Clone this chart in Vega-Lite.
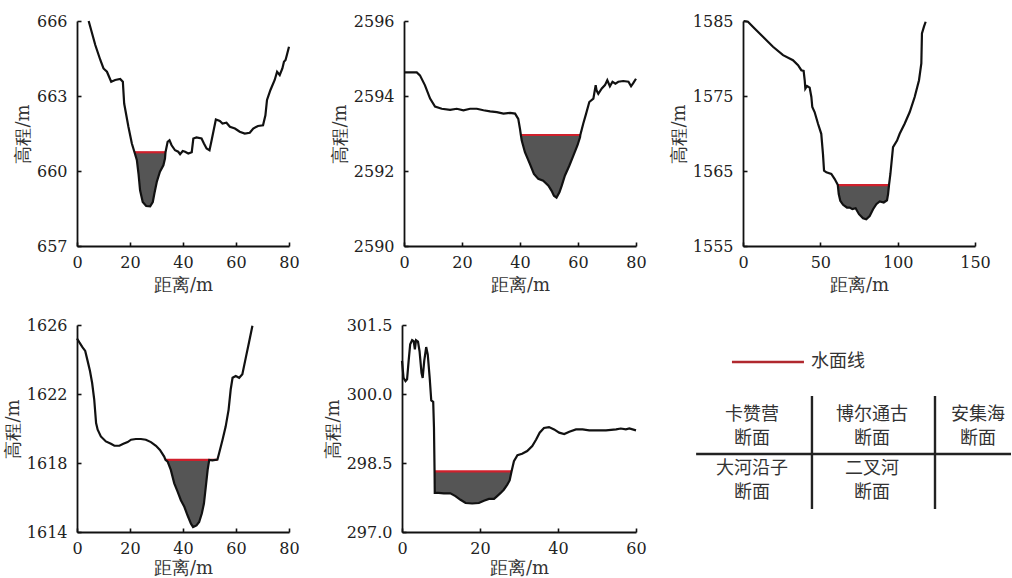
{
  "$schema": "https://vega.github.io/schema/vega-lite/v6.json",
  "padding": {"left": 4, "top": 13, "right": 0, "bottom": 0},
  "background": "white",
  "spacing": 23,
  "datasets": {
    "prof": [
      {"p":1,"d":4.4,"h":666.0},{"p":1,"d":6.9,"h":665.04},{"p":1,"d":8.8,"h":664.44},{"p":1,"d":10.0,"h":664.1},{"p":1,"d":11.3,"h":663.97},{"p":1,"d":12.9,"h":663.57},{"p":1,"d":14.4,"h":663.64},{"p":1,"d":16.3,"h":663.68},{"p":1,"d":17.3,"h":663.57},{"p":1,"d":17.8,"h":662.7},{"p":1,"d":19.4,"h":661.77},{"p":1,"d":20.7,"h":661.1},
      {"p":1,"d":21.7,"h":660.75,"w":660.75},{"p":1,"d":22.6,"h":660.43,"w":660.75},{"p":1,"d":23.2,"h":659.9,"w":660.75},{"p":1,"d":23.8,"h":659.23,"w":660.75},{"p":1,"d":24.8,"h":658.76,"w":660.75},{"p":1,"d":26.1,"h":658.6,"w":660.75},{"p":1,"d":27.6,"h":658.59,"w":660.75},{"p":1,"d":28.6,"h":658.76,"w":660.75},{"p":1,"d":29.2,"h":659.1,"w":660.75},{"p":1,"d":30.1,"h":659.56,"w":660.75},{"p":1,"d":31.3,"h":659.97,"w":660.75},{"p":1,"d":32.6,"h":660.23,"w":660.75},{"p":1,"d":33.2,"h":660.5,"w":660.75},{"p":1,"d":33.4,"h":660.75,"w":660.75},
      {"p":1,"d":34.2,"h":661.17},{"p":1,"d":34.9,"h":661.23},{"p":1,"d":35.7,"h":661.03},{"p":1,"d":37.0,"h":660.83},{"p":1,"d":38.2,"h":660.77},{"p":1,"d":38.9,"h":660.67},{"p":1,"d":39.9,"h":660.8},{"p":1,"d":40.8,"h":660.77},{"p":1,"d":42.0,"h":660.7},{"p":1,"d":43.3,"h":660.75},{"p":1,"d":43.9,"h":661.3},{"p":1,"d":45.1,"h":661.34},{"p":1,"d":47.0,"h":661.3},{"p":1,"d":47.9,"h":661.1},{"p":1,"d":48.9,"h":660.9},{"p":1,"d":50.0,"h":660.83},{"p":1,"d":50.8,"h":661.23},{"p":1,"d":52.4,"h":662.06},{"p":1,"d":53.9,"h":662.0},{"p":1,"d":54.9,"h":661.9},{"p":1,"d":56.4,"h":661.93},{"p":1,"d":57.7,"h":661.77},{"p":1,"d":59.6,"h":661.7},{"p":1,"d":61.4,"h":661.57},{"p":1,"d":63.3,"h":661.5},{"p":1,"d":65.2,"h":661.53},{"p":1,"d":66.5,"h":661.7},{"p":1,"d":68.3,"h":661.8},{"p":1,"d":70.2,"h":661.83},{"p":1,"d":71.1,"h":662.23},{"p":1,"d":71.7,"h":662.84},{"p":1,"d":73.0,"h":663.24},{"p":1,"d":74.6,"h":663.64},{"p":1,"d":75.5,"h":663.97},{"p":1,"d":76.5,"h":663.84},{"p":1,"d":77.5,"h":664.1},{"p":1,"d":78.1,"h":664.37},{"p":1,"d":78.7,"h":664.44},{"p":1,"d":79.2,"h":664.64},{"p":1,"d":80.0,"h":664.97},

      {"p":2,"d":0.3,"h":2594.63},{"p":2,"d":4.4,"h":2594.63},{"p":2,"d":5.5,"h":2594.55},{"p":2,"d":7.2,"h":2594.29},{"p":2,"d":9.0,"h":2593.93},{"p":2,"d":10.7,"h":2593.72},{"p":2,"d":13.0,"h":2593.66},{"p":2,"d":15.9,"h":2593.63},{"p":2,"d":18.2,"h":2593.66},{"p":2,"d":20.5,"h":2593.62},{"p":2,"d":22.8,"h":2593.66},{"p":2,"d":25.1,"h":2593.66},{"p":2,"d":27.4,"h":2593.62},{"p":2,"d":29.7,"h":2593.59},{"p":2,"d":32.0,"h":2593.57},{"p":2,"d":34.3,"h":2593.53},{"p":2,"d":36.6,"h":2593.55},{"p":2,"d":38.3,"h":2593.53},{"p":2,"d":39.4,"h":2593.39},{"p":2,"d":40.0,"h":2593.12},
      {"p":2,"d":40.3,"h":2592.96,"w":2592.96},{"p":2,"d":40.6,"h":2592.81,"w":2592.96},{"p":2,"d":41.7,"h":2592.5,"w":2592.96},{"p":2,"d":43.4,"h":2592.19,"w":2592.96},{"p":2,"d":44.8,"h":2591.92,"w":2592.96},{"p":2,"d":46.3,"h":2591.79,"w":2592.96},{"p":2,"d":48.0,"h":2591.74,"w":2592.96},{"p":2,"d":49.8,"h":2591.61,"w":2592.96},{"p":2,"d":50.9,"h":2591.47,"w":2592.96},{"p":2,"d":51.7,"h":2591.34,"w":2592.96},{"p":2,"d":52.6,"h":2591.29,"w":2592.96},{"p":2,"d":53.6,"h":2591.43,"w":2592.96},{"p":2,"d":54.4,"h":2591.61,"w":2592.96},{"p":2,"d":55.5,"h":2591.88,"w":2592.96},{"p":2,"d":57.0,"h":2592.14,"w":2592.96},{"p":2,"d":58.4,"h":2592.41,"w":2592.96},{"p":2,"d":59.8,"h":2592.68,"w":2592.96},{"p":2,"d":60.7,"h":2592.9,"w":2592.96},{"p":2,"d":60.8,"h":2592.96,"w":2592.96},
      {"p":2,"d":61.8,"h":2593.26},{"p":2,"d":62.8,"h":2593.53},{"p":2,"d":63.9,"h":2593.84},{"p":2,"d":65.3,"h":2593.93},{"p":2,"d":66.1,"h":2594.29},{"p":2,"d":66.4,"h":2594.15},{"p":2,"d":67.0,"h":2594.06},{"p":2,"d":68.2,"h":2594.2},{"p":2,"d":69.3,"h":2594.29},{"p":2,"d":70.1,"h":2594.42},{"p":2,"d":71.0,"h":2594.26},{"p":2,"d":71.9,"h":2594.38},{"p":2,"d":72.9,"h":2594.33},{"p":2,"d":73.9,"h":2594.38},{"p":2,"d":75.6,"h":2594.4},{"p":2,"d":77.4,"h":2594.38},{"p":2,"d":78.3,"h":2594.26},{"p":2,"d":79.1,"h":2594.35},{"p":2,"d":80.0,"h":2594.46},

      {"p":3,"d":0.4,"h":1585.0},{"p":3,"d":3.2,"h":1584.9},{"p":3,"d":7.5,"h":1584.0},{"p":3,"d":12.9,"h":1582.9},{"p":3,"d":19.4,"h":1581.56},{"p":3,"d":25.9,"h":1580.45},{"p":3,"d":32.3,"h":1579.78},{"p":3,"d":35.6,"h":1579.1},{"p":3,"d":37.7,"h":1578.44},{"p":3,"d":39.2,"h":1578.35},{"p":3,"d":39.9,"h":1577.1},{"p":3,"d":40.3,"h":1575.98},{"p":3,"d":41.4,"h":1576.34},{"p":3,"d":43.1,"h":1576.12},{"p":3,"d":44.2,"h":1574.87},{"p":3,"d":44.8,"h":1573.53},{"p":3,"d":46.3,"h":1572.86},{"p":3,"d":48.5,"h":1571.3},{"p":3,"d":50.6,"h":1569.96},{"p":3,"d":51.7,"h":1567.28},{"p":3,"d":52.4,"h":1565.04},{"p":3,"d":53.9,"h":1564.82},{"p":3,"d":57.1,"h":1564.6},{"p":3,"d":59.3,"h":1563.93},{"p":3,"d":61.0,"h":1563.26},
      {"p":3,"d":61.3,"h":1563.13,"w":1563.13},{"p":3,"d":61.9,"h":1561.92,"w":1563.13},{"p":3,"d":62.9,"h":1561.03,"w":1563.13},{"p":3,"d":64.7,"h":1560.49,"w":1563.13},{"p":3,"d":67.2,"h":1560.13,"w":1563.13},{"p":3,"d":69.0,"h":1560.13,"w":1563.13},{"p":3,"d":70.7,"h":1559.91,"w":1563.13},{"p":3,"d":72.8,"h":1560.04,"w":1563.13},{"p":3,"d":75.0,"h":1559.24,"w":1563.13},{"p":3,"d":77.6,"h":1558.7,"w":1563.13},{"p":3,"d":79.7,"h":1558.57,"w":1563.13},{"p":3,"d":81.9,"h":1559.0,"w":1563.13},{"p":3,"d":84.1,"h":1559.9,"w":1563.13},{"p":3,"d":86.2,"h":1560.58,"w":1563.13},{"p":3,"d":88.4,"h":1560.94,"w":1563.13},{"p":3,"d":91.0,"h":1560.8,"w":1563.13},{"p":3,"d":93.1,"h":1561.1,"w":1563.13},{"p":3,"d":93.8,"h":1561.92,"w":1563.13},{"p":3,"d":94.4,"h":1563.13,"w":1563.13},
      {"p":3,"d":95.3,"h":1564.6},{"p":3,"d":97.0,"h":1568.17},{"p":3,"d":99.6,"h":1569.06},{"p":3,"d":101.3,"h":1569.96},{"p":3,"d":104.5,"h":1571.3},{"p":3,"d":107.8,"h":1572.86},{"p":3,"d":111.0,"h":1574.87},{"p":3,"d":113.8,"h":1577.1},{"p":3,"d":115.3,"h":1579.33},{"p":3,"d":115.7,"h":1583.35},{"p":3,"d":117.0,"h":1584.24},{"p":3,"d":118.1,"h":1584.9},

      {"p":4,"d":0,"h":1625.22},{"p":4,"d":0.9,"h":1624.99},{"p":4,"d":2.1,"h":1624.7},{"p":4,"d":3.1,"h":1624.5},{"p":4,"d":4.0,"h":1623.92},{"p":4,"d":4.9,"h":1623.33},{"p":4,"d":5.7,"h":1622.65},{"p":4,"d":6.5,"h":1621.68},{"p":4,"d":7.2,"h":1620.32},{"p":4,"d":7.8,"h":1619.93},{"p":4,"d":9.0,"h":1619.54},{"p":4,"d":10.9,"h":1619.25},{"p":4,"d":12.8,"h":1619.11},{"p":4,"d":14.1,"h":1619.0},{"p":4,"d":16.0,"h":1619.0},{"p":4,"d":17.5,"h":1619.11},{"p":4,"d":19.1,"h":1619.21},{"p":4,"d":20.4,"h":1619.35},{"p":4,"d":22.2,"h":1619.39},{"p":4,"d":24.1,"h":1619.39},{"p":4,"d":26.0,"h":1619.35},{"p":4,"d":27.9,"h":1619.21},{"p":4,"d":29.8,"h":1619.0},{"p":4,"d":31.3,"h":1618.76},{"p":4,"d":32.9,"h":1618.37},
      {"p":4,"d":33.4,"h":1618.18,"w":1618.18},{"p":4,"d":34.2,"h":1618.08,"w":1618.18},{"p":4,"d":35.4,"h":1617.6,"w":1618.18},{"p":4,"d":36.7,"h":1616.82,"w":1618.18},{"p":4,"d":38.0,"h":1616.33,"w":1618.18},{"p":4,"d":39.2,"h":1615.84,"w":1618.18},{"p":4,"d":40.5,"h":1615.46,"w":1618.18},{"p":4,"d":41.7,"h":1614.97,"w":1618.18},{"p":4,"d":43.0,"h":1614.48,"w":1618.18},{"p":4,"d":43.8,"h":1614.29,"w":1618.18},{"p":4,"d":45.1,"h":1614.38,"w":1618.18},{"p":4,"d":46.1,"h":1614.58,"w":1618.18},{"p":4,"d":47.1,"h":1615.07,"w":1618.18},{"p":4,"d":47.9,"h":1615.65,"w":1618.18},{"p":4,"d":48.6,"h":1616.62,"w":1618.18},{"p":4,"d":49.3,"h":1617.6,"w":1618.18},{"p":4,"d":49.9,"h":1618.18,"w":1618.18},
      {"p":4,"d":51.1,"h":1618.15},{"p":4,"d":53.0,"h":1618.2},{"p":4,"d":53.6,"h":1618.55},{"p":4,"d":54.9,"h":1619.33},{"p":4,"d":56.1,"h":1620.11},{"p":4,"d":57.2,"h":1621.08},{"p":4,"d":58.0,"h":1622.26},{"p":4,"d":58.7,"h":1622.94},{"p":4,"d":59.9,"h":1623.04},{"p":4,"d":61.2,"h":1622.94},{"p":4,"d":62.4,"h":1623.14},{"p":4,"d":63.7,"h":1624.11},{"p":4,"d":64.9,"h":1624.99},{"p":4,"d":66.2,"h":1625.96},

      {"p":5,"d":0,"h":300.72},{"p":5,"d":0.4,"h":300.35},{"p":5,"d":0.9,"h":300.28},{"p":5,"d":1.3,"h":300.32},{"p":5,"d":1.7,"h":300.72},{"p":5,"d":2.1,"h":301.08},{"p":5,"d":2.6,"h":301.17},{"p":5,"d":3.0,"h":301.15},{"p":5,"d":3.3,"h":300.97},{"p":5,"d":3.6,"h":301.17},{"p":5,"d":4.1,"h":301.14},{"p":5,"d":4.5,"h":300.93},{"p":5,"d":5.0,"h":300.46},{"p":5,"d":5.3,"h":300.35},{"p":5,"d":5.7,"h":300.72},{"p":5,"d":6.2,"h":301.02},{"p":5,"d":6.6,"h":300.86},{"p":5,"d":7.1,"h":300.35},{"p":5,"d":7.5,"h":299.86},{"p":5,"d":8.0,"h":299.83},{"p":5,"d":8.2,"h":299.26},
      {"p":5,"d":8.35,"h":298.32,"w":298.32},{"p":5,"d":8.4,"h":297.85,"w":298.32},{"p":5,"d":9.4,"h":297.85,"w":298.32},{"p":5,"d":10.7,"h":297.84,"w":298.32},{"p":5,"d":12.4,"h":297.84,"w":298.32},{"p":5,"d":13.7,"h":297.78,"w":298.32},{"p":5,"d":15.0,"h":297.7,"w":298.32},{"p":5,"d":16.3,"h":297.63,"w":298.32},{"p":5,"d":18.0,"h":297.62,"w":298.32},{"p":5,"d":19.7,"h":297.63,"w":298.32},{"p":5,"d":21.0,"h":297.68,"w":298.32},{"p":5,"d":22.3,"h":297.72,"w":298.32},{"p":5,"d":23.6,"h":297.72,"w":298.32},{"p":5,"d":24.4,"h":297.78,"w":298.32},{"p":5,"d":25.3,"h":297.85,"w":298.32},{"p":5,"d":26.1,"h":297.92,"w":298.32},{"p":5,"d":27.0,"h":298.03,"w":298.32},{"p":5,"d":27.6,"h":298.12,"w":298.32},{"p":5,"d":28.1,"h":298.32,"w":298.32},
      {"p":5,"d":28.7,"h":298.54},{"p":5,"d":29.6,"h":298.67},{"p":5,"d":30.8,"h":298.7},{"p":5,"d":32.1,"h":298.76},{"p":5,"d":33.4,"h":298.87},{"p":5,"d":34.4,"h":299.01},{"p":5,"d":35.3,"h":299.16},{"p":5,"d":36.4,"h":299.26},{"p":5,"d":37.7,"h":299.28},{"p":5,"d":39.0,"h":299.23},{"p":5,"d":40.3,"h":299.16},{"p":5,"d":41.6,"h":299.13},{"p":5,"d":42.9,"h":299.18},{"p":5,"d":44.6,"h":299.23},{"p":5,"d":46.3,"h":299.23},{"p":5,"d":48.0,"h":299.21},{"p":5,"d":49.7,"h":299.21},{"p":5,"d":52.3,"h":299.21},{"p":5,"d":54.9,"h":299.23},{"p":5,"d":56.1,"h":299.25},{"p":5,"d":57.4,"h":299.23},{"p":5,"d":58.3,"h":299.25},{"p":5,"d":60.0,"h":299.21}
    ],
    "water": [
      {"p":1,"x1":21.7,"x2":33.3,"w":660.75},
      {"p":2,"x1":40.2,"x2":60.9,"w":2592.96},
      {"p":3,"x1":61.4,"x2":94.4,"w":1563.13},
      {"p":4,"x1":33.2,"x2":53.0,"w":1618.18},
      {"p":5,"x1":8.2,"x2":28.1,"w":298.32}
    ],
    "tlines": [
      {"x1":37.8,"x2":37.8,"y1":65.7,"y2":11.1},
      {"x1":76.25,"x2":76.25,"y1":65.7,"y2":11.1},
      {"x1":1.6,"x2":100,"y1":37.7,"y2":37.7}
    ],
    "tleg": [{"x1":12.8,"x2":35.3,"y":82.1,"tx":37.5,"t":"水面线"}],
    "ttext": [
      {"t":"卡赞营","x":19.1,"y":56.5},{"t":"断面","x":19.1,"y":44.9},
      {"t":"博尔通古","x":56.6,"y":56.5},{"t":"断面","x":56.6,"y":44.9},
      {"t":"安集海","x":89.7,"y":56.5},{"t":"断面","x":89.7,"y":44.9},
      {"t":"大河沿子","x":19.1,"y":30.6},{"t":"断面","x":19.1,"y":19.0},
      {"t":"二叉河","x":56.6,"y":30.6},{"t":"断面","x":56.6,"y":19.0}
    ]
  },
  "vconcat": [
    {
      "bounds": "flush",
      "spacing": 115,
      "hconcat": [
        {
          "width": 212, "height": 225,
          "layer": [
            {"data":{"name":"prof"},"transform":[{"filter":"datum.p==1 && isValid(datum.w)"}],
             "mark":{"type":"area","color":"#555555","opacity":1},
             "encoding":{"x":{"field":"d","type":"quantitative","scale":{"domain":[0,80],"nice":false},"axis":{"values":[0,20,40,60,80],"title":"距离/m"}},
                         "y":{"field":"h","type":"quantitative","scale":{"domain":[657,666],"nice":false,"zero":false},"axis":{"values":[657,660,663,666],"format":"d","title":"高程/m"}},
                         "y2":{"field":"w"}}},
            {"data":{"name":"water"},"transform":[{"filter":"datum.p==1"}],
             "mark":{"type":"rule","color":"#d0202c","strokeWidth":2.2},
             "encoding":{"x":{"field":"x1","type":"quantitative"},"x2":{"field":"x2"},"y":{"field":"w","type":"quantitative"}}},
            {"data":{"name":"prof"},"transform":[{"filter":"datum.p==1"}],
             "mark":{"type":"line","color":"#111111","strokeWidth":2.2},
             "encoding":{"x":{"field":"d","type":"quantitative"},"y":{"field":"h","type":"quantitative"}}}
          ]
        },
        {
          "bounds": "flush",
          "spacing": 107,
          "hconcat": [
            {
              "width": 232, "height": 225,
              "layer": [
                {"data":{"name":"prof"},"transform":[{"filter":"datum.p==2 && isValid(datum.w)"}],
                 "mark":{"type":"area","color":"#555555","opacity":1},
                 "encoding":{"x":{"field":"d","type":"quantitative","scale":{"domain":[0,80],"nice":false},"axis":{"values":[0,20,40,60,80],"title":"距离/m"}},
                             "y":{"field":"h","type":"quantitative","scale":{"domain":[2590,2596],"nice":false,"zero":false},"axis":{"values":[2590,2592,2594,2596],"format":"d","title":"高程/m"}},
                             "y2":{"field":"w"}}},
                {"data":{"name":"water"},"transform":[{"filter":"datum.p==2"}],
                 "mark":{"type":"rule","color":"#d0202c","strokeWidth":2.2},
                 "encoding":{"x":{"field":"x1","type":"quantitative"},"x2":{"field":"x2"},"y":{"field":"w","type":"quantitative"}}},
                {"data":{"name":"prof"},"transform":[{"filter":"datum.p==2"}],
                 "mark":{"type":"line","color":"#111111","strokeWidth":2.2},
                 "encoding":{"x":{"field":"d","type":"quantitative"},"y":{"field":"h","type":"quantitative"}}}
              ]
            },
            {
              "width": 232, "height": 225,
              "layer": [
                {"data":{"name":"prof"},"transform":[{"filter":"datum.p==3 && isValid(datum.w)"}],
                 "mark":{"type":"area","color":"#555555","opacity":1},
                 "encoding":{"x":{"field":"d","type":"quantitative","scale":{"domain":[0,150],"nice":false},"axis":{"values":[0,50,100,150],"title":"距离/m"}},
                             "y":{"field":"h","type":"quantitative","scale":{"domain":[1555,1585],"nice":false,"zero":false},"axis":{"values":[1555,1565,1575,1585],"format":"d","title":"高程/m"}},
                             "y2":{"field":"w"}}},
                {"data":{"name":"water"},"transform":[{"filter":"datum.p==3"}],
                 "mark":{"type":"rule","color":"#d0202c","strokeWidth":2.2},
                 "encoding":{"x":{"field":"x1","type":"quantitative"},"x2":{"field":"x2"},"y":{"field":"w","type":"quantitative"}}},
                {"data":{"name":"prof"},"transform":[{"filter":"datum.p==3"}],
                 "mark":{"type":"line","color":"#111111","strokeWidth":2.2},
                 "encoding":{"x":{"field":"d","type":"quantitative"},"y":{"field":"h","type":"quantitative"}}}
              ]
            }
          ]
        }
      ]
    },
    {
      "bounds": "flush",
      "spacing": 113,
      "hconcat": [
        {
          "width": 212, "height": 207,
          "layer": [
            {"data":{"name":"prof"},"transform":[{"filter":"datum.p==4 && isValid(datum.w)"}],
             "mark":{"type":"area","color":"#555555","opacity":1},
             "encoding":{"x":{"field":"d","type":"quantitative","scale":{"domain":[0,80],"nice":false},"axis":{"values":[0,20,40,60,80],"title":"距离/m","titlePadding":3}},
                         "y":{"field":"h","type":"quantitative","scale":{"domain":[1614,1626],"nice":false,"zero":false},"axis":{"values":[1614,1618,1622,1626],"format":"d","title":"高程/m"}},
                         "y2":{"field":"w"}}},
            {"data":{"name":"water"},"transform":[{"filter":"datum.p==4"}],
             "mark":{"type":"rule","color":"#d0202c","strokeWidth":2.2},
             "encoding":{"x":{"field":"x1","type":"quantitative"},"x2":{"field":"x2"},"y":{"field":"w","type":"quantitative"}}},
            {"data":{"name":"prof"},"transform":[{"filter":"datum.p==4"}],
             "mark":{"type":"line","color":"#111111","strokeWidth":2.2},
             "encoding":{"x":{"field":"d","type":"quantitative"},"y":{"field":"h","type":"quantitative"}}}
          ]
        },
        {
          "bounds": "flush",
          "spacing": 55,
          "hconcat": [
            {
              "width": 234, "height": 207,
              "layer": [
                {"data":{"name":"prof"},"transform":[{"filter":"datum.p==5 && isValid(datum.w)"}],
                 "mark":{"type":"area","color":"#555555","opacity":1},
                 "encoding":{"x":{"field":"d","type":"quantitative","scale":{"domain":[0,60],"nice":false},"axis":{"values":[0,20,40,60],"title":"距离/m","titlePadding":3}},
                             "y":{"field":"h","type":"quantitative","scale":{"domain":[297,301.5],"nice":false,"zero":false},"axis":{"values":[297,298.5,300,301.5],"format":".1f","title":"高程/m"}},
                             "y2":{"field":"w"}}},
                {"data":{"name":"water"},"transform":[{"filter":"datum.p==5"}],
                 "mark":{"type":"rule","color":"#d0202c","strokeWidth":2.2},
                 "encoding":{"x":{"field":"x1","type":"quantitative"},"x2":{"field":"x2"},"y":{"field":"w","type":"quantitative"}}},
                {"data":{"name":"prof"},"transform":[{"filter":"datum.p==5"}],
                 "mark":{"type":"line","color":"#111111","strokeWidth":2.2},
                 "encoding":{"x":{"field":"d","type":"quantitative"},"y":{"field":"h","type":"quantitative"}}}
              ]
            },
            {
              "width": 320, "height": 207,
              "layer": [
                {"data":{"name":"tlines"},
                 "mark":{"type":"rule","color":"#222222","strokeWidth":2.4},
                 "encoding":{"x":{"field":"x1","type":"quantitative","scale":{"domain":[0,100],"nice":false},"axis":null},"x2":{"field":"x2"},
                             "y":{"field":"y1","type":"quantitative","scale":{"domain":[0,100],"nice":false},"axis":null},"y2":{"field":"y2"}}},
                {"data":{"name":"tleg"},
                 "mark":{"type":"rule","color":"#b0282e","strokeWidth":2.6},
                 "encoding":{"x":{"field":"x1","type":"quantitative"},"x2":{"field":"x2"},"y":{"field":"y","type":"quantitative"}}},
                {"data":{"name":"tleg"},
                 "mark":{"type":"text","align":"left","baseline":"middle","font":"Noto Sans CJK SC","fontSize":18,"color":"#333333"},
                 "encoding":{"x":{"field":"tx","type":"quantitative"},"y":{"field":"y","type":"quantitative"},"text":{"field":"t"}}},
                {"data":{"name":"ttext"},
                 "mark":{"type":"text","align":"center","baseline":"middle","font":"Noto Sans CJK SC","fontSize":18,"color":"#333333"},
                 "encoding":{"x":{"field":"x","type":"quantitative"},"y":{"field":"y","type":"quantitative"},"text":{"field":"t"}}}
              ]
            }
          ]
        }
      ]
    }
  ],
  "config": {
    "font": "DejaVu Serif",
    "view": {"stroke": null},
    "axis": {
      "grid": false,
      "domainColor": "#111111",
      "domainWidth": 1.8,
      "tickColor": "#111111",
      "tickWidth": 1.6,
      "tickSize": -4,
      "labelFont": "DejaVu Serif",
      "labelFontSize": 16,
      "labelColor": "#222222",
      "labelFlush": false,
      "labelOverlap": false,
      "titleFont": "DejaVu Serif",
      "titleFontSize": 18,
      "titleFontWeight": "normal",
      "titleColor": "#333333"
    },
    "axisX": {"labelPadding": 12, "titlePadding": 6},
    "axisY": {"labelPadding": 14, "titlePadding": 4}
  }
}
